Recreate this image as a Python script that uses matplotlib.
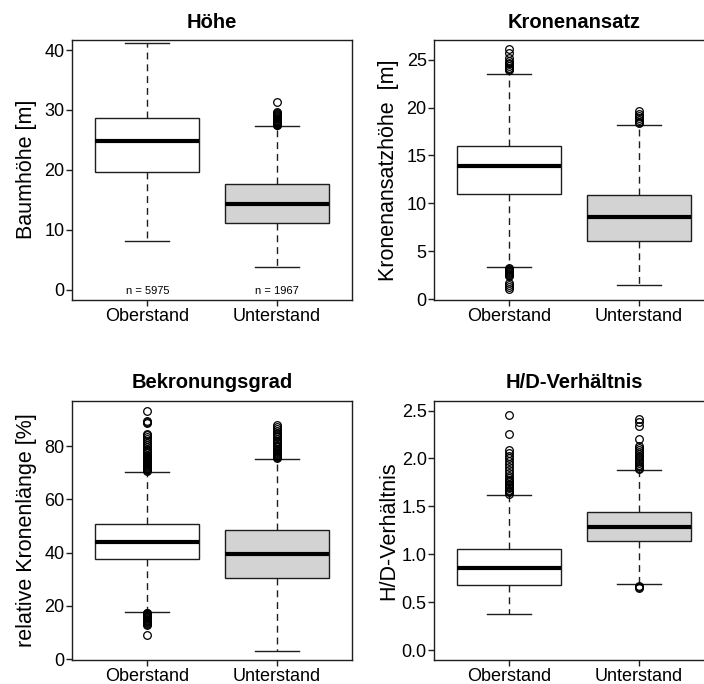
import matplotlib
matplotlib.use("Agg")
import matplotlib.pyplot as plt
from matplotlib.ticker import FormatStrFormatter

plt.rcParams['font.family'] = ['Liberation Sans', 'DejaVu Sans']

groups = ["Oberstand", "Unterstand"]
box_colors = ["white", "#d3d3d3"]
n_trees = [5975, 1967]

# Höhe
hoehe_q1 = [19.6, 11.05]
hoehe_med = [24.8, 14.3]
hoehe_q3 = [28.65, 17.6]
hoehe_lo = [8.05, 3.7]
hoehe_hi = [41.2, 27.3]
hoehe_out_ober = []
hoehe_out_unter = [27.4, 27.5, 27.6, 27.7, 27.8, 27.9, 28.0, 28.1, 28.2, 28.3,
                   28.5, 28.6, 28.8, 28.9, 29.1, 29.3, 29.5, 29.7, 31.3]

# Kronenansatz
ka_q1 = [10.97, 6.02]
ka_med = [13.86, 8.53]
ka_q3 = [16.0, 10.9]
ka_lo = [3.3, 1.42]
ka_hi = [23.47, 18.14]
ka_out_ober = [23.9, 24.0, 24.1, 24.3, 24.5, 24.7, 24.9, 25.2, 25.7, 26.1,
               3.2, 3.1, 3.0, 2.9, 2.8, 2.7, 2.6, 2.5, 2.4, 1.7, 1.5, 1.3, 1.0]
ka_out_unter = [18.4, 18.5, 18.7, 18.9, 19.1, 19.3, 19.6]

# Bekronungsgrad
bk_q1 = [37.5, 30.4]
bk_med = [44.1, 39.4]
bk_q3 = [50.6, 48.5]
bk_lo = [17.85, 3.1]
bk_hi = [70.3, 75.1]
bk_out_ober = [70.6, 70.9, 71.2, 71.5, 71.8, 72.1, 72.4, 72.7, 73.0, 73.3,
               73.6, 73.9, 74.2, 74.5, 74.8, 75.1, 75.4, 75.7, 76.0, 76.4,
               76.8, 77.2, 77.6, 78.0, 78.5, 79.0, 79.6, 80.3, 81.0, 81.8,
               82.6, 83.3, 84.0, 84.6, 88.7, 89.0, 89.3, 93.2,
               17.5, 17.2, 16.9, 16.6, 16.3, 16.0, 15.7, 15.4, 15.1, 14.8,
               14.5, 14.2, 13.9, 13.6, 13.3, 12.9, 9.0]
bk_out_unter = [75.5, 75.8, 76.1, 76.4, 76.7, 77.0, 77.4, 77.8, 78.2, 78.6,
                79.0, 79.5, 80.0, 80.5, 81.0, 81.5, 82.0, 82.6, 83.2, 83.8,
                84.4, 85.0, 85.7, 86.4, 87.2, 88.0]

# H/D-Verhältnis
hd_q1 = [0.677, 1.139]
hd_med = [0.857, 1.288]
hd_q3 = [1.052, 1.44]
hd_lo = [0.372, 0.6875]
hd_hi = [1.62, 1.88]
hd_out_ober = [1.63, 1.645, 1.66, 1.675, 1.69, 1.705, 1.72, 1.735, 1.75, 1.765,
               1.78, 1.80, 1.82, 1.85, 1.88, 1.91, 1.94, 1.97, 2.00, 2.03,
               2.06, 2.09, 2.26, 2.45]
hd_out_unter = [1.89, 1.905, 1.92, 1.935, 1.95, 1.97, 1.99, 2.01, 2.03, 2.05,
                2.07, 2.09, 2.11, 2.13, 2.20, 2.34, 2.38, 2.41,
                0.67, 0.66, 0.65]

linecol = "#1e1e1e"


def panel(ax, q1, med, q3, lo, hi, fliers, title, ylabel, ylim, yticks, fmt):
    stats = []
    for i in range(2):
        stats.append(dict(q1=q1[i], med=med[i], q3=q3[i],
                          whislo=lo[i], whishi=hi[i], fliers=fliers[i]))
    bp = ax.bxp(stats, positions=[1, 2], widths=0.8, capwidths=0.34,
                patch_artist=True,
                boxprops=dict(lw=1, edgecolor=linecol),
                medianprops=dict(color="black", lw=3, solid_capstyle="butt"),
                whiskerprops=dict(color=linecol, lw=1, ls=(0, (5, 3.5))),
                capprops=dict(color=linecol, lw=1),
                flierprops=dict(marker="o", mfc="none", mec="black",
                                ms=5.5, mew=0.9))
    for patch, c in zip(bp["boxes"], box_colors):
        patch.set_facecolor(c)
    ax.set_xlim(0.42, 2.58)
    ax.set_ylim(*ylim)
    ax.set_yticks(yticks)
    ax.yaxis.set_major_formatter(FormatStrFormatter(fmt))
    ax.set_xticks([1, 2])
    ax.set_xticklabels(groups)
    ax.tick_params(direction="out", length=4.3, width=1, colors=linecol,
                   labelcolor="black", labelsize=13)
    ax.tick_params(axis="y", pad=1)
    ax.tick_params(axis="x", pad=2)
    for s in ax.spines.values():
        s.set_linewidth(1)
        s.set_color(linecol)
    ax.set_title(title, fontsize=14.5, fontweight="bold", pad=9)
    ax.set_ylabel(ylabel, fontsize=15.5)
    ax.yaxis.label.set_verticalalignment("center")
    ax.yaxis.set_label_coords(-0.162, 0.5)


fig = plt.figure(figsize=(7.04, 6.84), dpi=100)
ax1 = fig.add_axes([0.1023, 0.5621, 0.3984, 0.3794])
ax2 = fig.add_axes([0.6165, 0.5621, 0.3984, 0.3794])
ax3 = fig.add_axes([0.1023, 0.0357, 0.3984, 0.3781])
ax4 = fig.add_axes([0.6165, 0.0357, 0.3984, 0.3781])

panel(ax1, hoehe_q1, hoehe_med, hoehe_q3, hoehe_lo, hoehe_hi,
      [hoehe_out_ober, hoehe_out_unter], "Höhe", "Baumhöhe [m]",
      (-1.67, 41.67), [0, 10, 20, 30, 40], "%d")
for x, n in zip([1, 2], n_trees):
    ax1.text(x, -0.2, "n = %d" % n, ha="center", va="center", fontsize=8)

panel(ax2, ka_q1, ka_med, ka_q3, ka_lo, ka_hi,
      [ka_out_ober, ka_out_unter], "Kronenansatz", "Kronenansatzhöhe  [m]",
      (-0.05, 27.05), [0, 5, 10, 15, 20, 25], "%d")

panel(ax3, bk_q1, bk_med, bk_q3, bk_lo, bk_hi,
      [bk_out_ober, bk_out_unter], "Bekronungsgrad", "relative Kronenlänge [%]",
      (-0.1, 96.9), [0, 20, 40, 60, 80], "%d")

panel(ax4, hd_q1, hd_med, hd_q3, hd_lo, hd_hi,
      [hd_out_ober, hd_out_unter], "H/D-Verhältnis", "H/D-Verhältnis",
      (-0.1, 2.6), [0.0, 0.5, 1.0, 1.5, 2.0, 2.5], "%.1f")

fig.savefig("out.png", dpi=100)
